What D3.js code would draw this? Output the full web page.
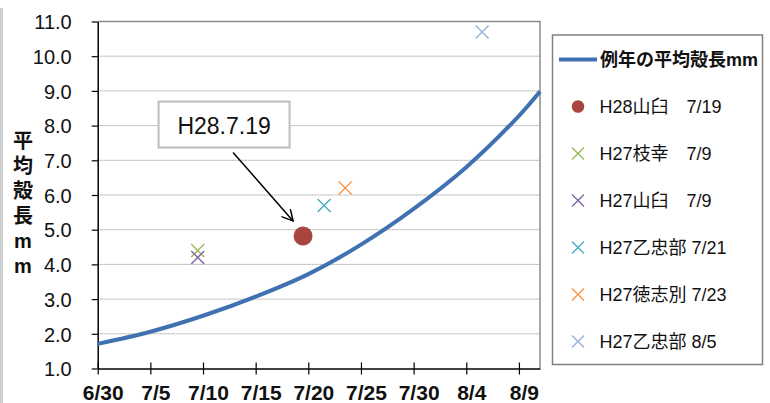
<!DOCTYPE html>
<html lang="ja">
  <head>
    <meta charset="utf-8" />
    <title>平均殻長</title>
    <script src="https://cdn.jsdelivr.net/npm/d3@7"></script>
    <style>
      body { margin: 0; background: #fff; }
      svg text { font-family: "Liberation Sans", Arial, "Noto Sans CJK JP", sans-serif; fill: #111; }
    </style>
  </head>
  <body>
    <div id="chart"></div>
    <script type="text/javascript">
      // average curve
      const curveDates = ["6/30", "7/5", "7/10", "7/15", "7/20", "7/25", "7/30", "8/4", "8/9", "8/11"];
      const curveValues = [1.71, 2.06, 2.52, 3.07, 3.72, 4.57, 5.60, 6.80, 8.28, 8.98];
      const curveName = "例年の平均殻長mm";

      // observed points
      const seriesNames = ["H28山臼　7/19", "H27枝幸　7/9", "H27山臼　7/9", "H27乙忠部 7/21", "H27徳志別 7/23", "H27乙忠部 8/5"];
      const seriesDates = ["7/19", "7/9", "7/9", "7/21", "7/23", "8/5"];
      const seriesValues = [4.82, 4.4, 4.2, 5.7, 6.2, 10.7];
      const seriesColors = ["#A9443F", "#9BBB59", "#8064A2", "#4BACC6", "#F79646", "#95B3D7"];
      const seriesShapes = ["circle", "cross", "cross", "cross", "cross", "cross"];

      const xTickLabels = ["6/30", "7/5", "7/10", "7/15", "7/20", "7/25", "7/30", "8/4", "8/9"];
      const yTicks = [1, 2, 3, 4, 5, 6, 7, 8, 9, 10, 11];
      const yLabel = ["平", "均", "殻", "長", "m", "m"];

      const callout = { text: "H28.7.19", date: "7/12", value: 8.03 };

      const width = 770, height = 403;
      const plot = { left: 97.7, right: 540, top: 21.5, bottom: 368.5 };

      function parseDay(s, half) {
        const [m, d] = s.split("/").map(Number);
        return new Date(Date.UTC(2016, m - 1, d, half ? 12 : 0));
      }

      const x = d3.scaleUtc()
        .domain([parseDay("6/30"), parseDay("8/11")])
        .range([plot.left, plot.right]);
      const y = d3.scaleLinear()
        .domain([1, 11])
        .range([plot.bottom, plot.top]);

      const svg = d3.select("#chart").append("svg")
        .attr("width", width)
        .attr("height", height);

      svg.append("rect").attr("width", width).attr("height", height).attr("fill", "#fff");
      // grey strip on the far left
      svg.append("rect").attr("x", 0).attr("y", 8).attr("width", 3).attr("height", height - 8).attr("fill", "#cfcfcf");

      // gridlines
      svg.append("g").selectAll("line")
        .data(yTicks.slice(1, -1))
        .join("line")
        .attr("x1", plot.left).attr("x2", plot.right)
        .attr("y1", d => y(d)).attr("y2", d => y(d))
        .attr("stroke", "#8a8a8a")
        .attr("stroke-width", 1)
        .attr("stroke-dasharray", "1,1");

      // plot border top / right
      svg.append("path")
        .attr("d", `M${plot.left},${y(11)}H${plot.right}V${plot.bottom}`)
        .attr("fill", "none")
        .attr("stroke", "#8c8c8c")
        .attr("stroke-width", 1.5);

      // y axis
      const yAxis = svg.append("g").attr("transform", `translate(${plot.left},0)`)
        .call(d3.axisLeft(y).tickValues(yTicks).tickFormat(d3.format(".1f")).tickSizeInner(6).tickSizeOuter(0).tickPadding(20));
      yAxis.select(".domain").attr("stroke", "#000").attr("stroke-width", 1.5);
      yAxis.selectAll(".tick line").attr("stroke", "#000").attr("x2", -6).attr("stroke-width", 1.2);
      yAxis.selectAll(".tick text").attr("font-size", 20).attr("font-family", null).attr("dy", "0.36em");

      // x axis
      const xAxis = svg.append("g").attr("transform", `translate(0,${plot.bottom})`)
        .call(d3.axisBottom(x).tickValues(xTickLabels.map(d => parseDay(d))).tickFormat((d, i) => xTickLabels[i]).tickSize(6).tickSizeOuter(0).tickPadding(10));
      xAxis.select(".domain").attr("stroke", "#000").attr("stroke-width", 1.5);
      xAxis.selectAll(".tick line").attr("stroke", "#000").attr("y1", -6).attr("stroke-width", 1.2);
      xAxis.selectAll(".tick text")
        .attr("font-size", 21)
        .attr("font-weight", "bold")
        .attr("font-family", null)
        .attr("dx", 5)
        .attr("dy", "0.75em");

      // y axis title, stacked vertically
      svg.append("g").selectAll("text")
        .data(yLabel)
        .join("text")
        .attr("x", 23)
        .attr("y", (d, i) => 148 + i * 25)
        .attr("text-anchor", "middle")
        .attr("font-size", 20)
        .attr("font-weight", "bold")
        .text(d => d);

      // average curve
      const line = d3.line()
        .x(d => x(parseDay(d[0])))
        .y(d => y(d[1]))
        .curve(d3.curveCatmullRom.alpha(0.5));
      svg.append("path")
        .datum(d3.zip(curveDates, curveValues))
        .attr("d", line)
        .attr("fill", "none")
        .attr("stroke", "#4071B1")
        .attr("stroke-width", 4);

      // markers
      function drawMarker(g, shape, color, size) {
        if (shape === "circle") {
          g.append("circle").attr("r", size).attr("fill", color);
        } else {
          const s = size;
          g.append("path")
            .attr("d", `M${-s},${-s}L${s},${s}M${-s},${s}L${s},${-s}`)
            .attr("stroke", color)
            .attr("stroke-width", 1.4)
            .attr("fill", "none");
        }
      }

      seriesValues.forEach((v, i) => {
        const g = svg.append("g")
          .attr("transform", `translate(${x(parseDay(seriesDates[i], true))},${y(v)})`);
        drawMarker(g, seriesShapes[i], seriesColors[i], seriesShapes[i] === "circle" ? 9.5 : 6.5);
      });

      // callout
      const cx = x(parseDay(callout.date)), cy = y(callout.value);
      svg.append("rect")
        .attr("x", cx - 65.5).attr("y", cy - 23)
        .attr("width", 131).attr("height", 46)
        .attr("fill", "#fff")
        .attr("stroke", "#bdbdbd")
        .attr("stroke-width", 2);
      svg.append("text")
        .attr("x", cx).attr("y", cy + 9)
        .attr("text-anchor", "middle")
        .attr("font-family", "Lato, 'Open Sans', sans-serif")
        .attr("font-size", 23)
        .text(callout.text);

      svg.append("defs").append("marker")
        .attr("id", "arrow")
        .attr("viewBox", "0 0 12 12")
        .attr("refX", 11).attr("refY", 6)
        .attr("markerWidth", 12).attr("markerHeight", 12)
        .attr("markerUnits", "userSpaceOnUse")
        .attr("orient", "auto")
        .append("path")
        .attr("d", "M0,0L11,6L0,12")
        .attr("fill", "none")
        .attr("stroke", "#000")
        .attr("stroke-width", 1.5);

      const dot = [x(parseDay(seriesDates[0], true)), y(seriesValues[0])];
      svg.append("line")
        .attr("x1", cx + 9).attr("y1", cy + 28)
        .attr("x2", dot[0] - 10).attr("y2", dot[1] - 15)
        .attr("stroke", "#000")
        .attr("stroke-width", 1.5)
        .attr("marker-end", "url(#arrow)");

      // legend
      const legend = svg.append("g");
      legend.append("rect")
        .attr("x", 552.5).attr("y", 35)
        .attr("width", 210).attr("height", 329.5)
        .attr("fill", "#fff")
        .attr("stroke", "#808080")
        .attr("stroke-width", 1.5);

      const rowY = i => 59.5 + i * 47;
      legend.append("line")
        .attr("x1", 559).attr("x2", 597)
        .attr("y1", rowY(0)).attr("y2", rowY(0))
        .attr("stroke", "#4071B1").attr("stroke-width", 4);
      legend.append("text")
        .attr("x", 600).attr("y", rowY(0) + 6.5)
        .attr("font-size", 18).attr("font-weight", "bold")
        .text(curveName);

      seriesNames.forEach((name, i) => {
        const yy = rowY(i + 1);
        const g = legend.append("g").attr("transform", `translate(578,${yy})`);
        drawMarker(g, seriesShapes[i], seriesColors[i], seriesShapes[i] === "circle" ? 6.3 : 6);
        legend.append("text")
          .attr("x", 599.5).attr("y", yy + 6.5)
          .attr("font-size", 18)
          .text(name);
      });
    </script>
  </body>
</html>
